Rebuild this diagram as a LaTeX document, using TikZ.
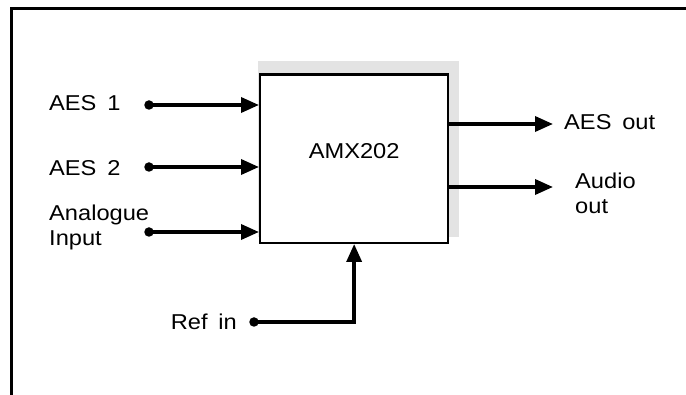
\documentclass[tikz,border=0pt]{standalone}
\usepackage{fontspec}
\setmainfont{Liberation Sans}[FakeStretch=1.1]
\usepackage{tikz}
\usetikzlibrary{arrows.meta, calc, positioning}

\begin{document}
\begin{tikzpicture}[x=1pt, y=-1pt, font=\fontsize{21.5}{25}\selectfont,
    fleche/.style={line width=3.5pt, -{Triangle[length=18pt, width=15pt]}},
    liaison/.style={line width=3.3pt},
    point/.style={circle, fill=black, inner sep=0pt, minimum size=9.5pt},
    etiq/.style={inner sep=0pt, align=left}]
    \useasboundingbox (0,0) rectangle (686,395);

    % Cadre
    \draw[line width=3pt] (11.3,395) -- (11.3,8.5) -- (686,8.5);

    % Ombre du bloc
    \fill[black!11] (258,61) rectangle (459,237);

    % Bloc principal
    \node[draw, line width=2.3pt, fill=white, minimum width=188pt, minimum height=168.4pt,
          inner sep=0pt, anchor=north west] (amx) at (259,73.3) {};
    \node[etiq] (titre) at ([yshift=7.5pt]amx.center) {AMX202};

    % Entrees
    \foreach \nom/\y in {e1/105, e2/167, e3/232} {
        \node[point] (\nom) at (149,\y) {};
        \draw[fleche] (\nom.center) -- (\nom -| amx.west);
    }
    \node[etiq, anchor=west] (lab1) at (49,103.5) {AES\enspace 1};
    \node[etiq, anchor=west] (lab2) at (49,168) {AES\enspace 2};
    \node[etiq, anchor=west] (lab3) at (49,227.5) {Analogue\\Input};

    % Sorties
    \coordinate (s1) at (553,124);
    \coordinate (s2) at (553,187);
    \draw[fleche] (s1 -| amx.east) -- (s1);
    \draw[fleche] (s2 -| amx.east) -- (s2);
    \node[etiq, anchor=west] (lab4) at (564,122) {AES\enspace out};
    \node[etiq, anchor=west] (lab5) at (575,193.5) {Audio\\out};

    % Reference
    \node[point] (ref) at (254,322) {};
    \node[etiq, anchor=east] (lab6) at (237,322) {Ref\enspace in};
    \draw[liaison] (ref.center) -- (ref -| amx.south);
    \draw[fleche] ([yshift=-1.65pt]ref -| amx.south) -- (amx.south);

\end{tikzpicture}
\end{document}
